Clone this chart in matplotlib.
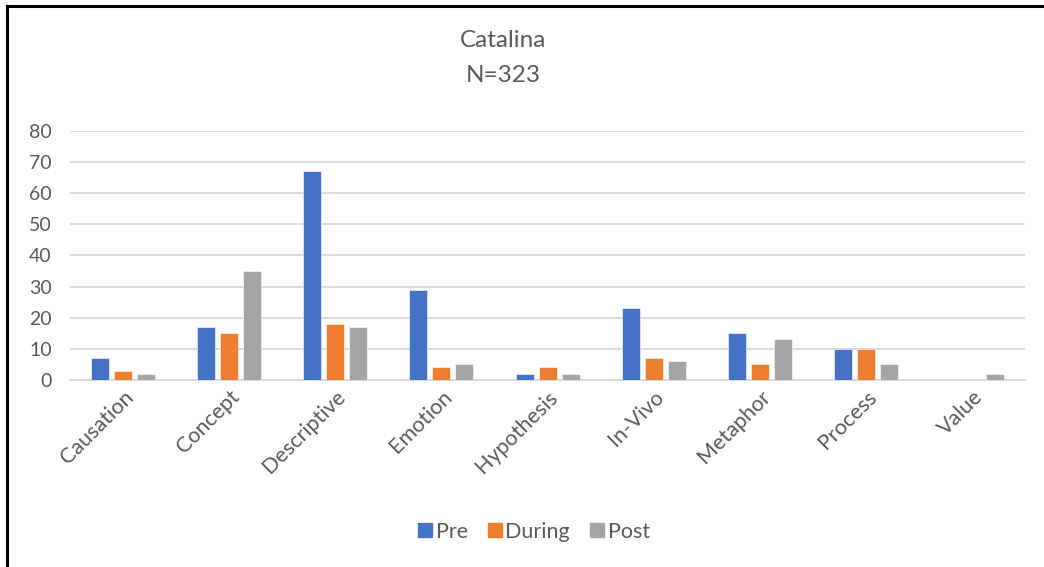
import numpy as np
from matplotlib import pyplot as plt
from matplotlib.lines import Line2D

categorias = ['Causation', 'Concept', 'Descriptive', 'Emotion', 'Hypothesis',
              'In-Vivo', 'Metaphor', 'Process', 'Value']
pre = [7, 17, 67, 29, 2, 23, 15, 10, 0]
during = [3, 15, 18, 4, 4, 7, 5, 10, 0]
post = [2, 35, 17, 5, 2, 6, 13, 5, 2]
series = ['Pre', 'During', 'Post']
colores = ['#4472C4', '#ED7D31', '#A5A5A5']

plt.rcParams['font.family'] = ['Lato', 'DejaVu Sans']
gris_texto = '#595959'

fig = plt.figure(figsize=(10.44, 5.67), dpi=100)
ax = fig.add_axes([0.067, 0.330, 0.915, 0.439])

x = np.arange(len(categorias))
ancho = 0.17
paso = 0.217
for i, (datos, nombre, color) in enumerate(zip([pre, during, post], series, colores)):
    ax.bar(x + (i - 1) * paso, datos, ancho, color=color, label=nombre,
           edgecolor='white', linewidth=0.4, zorder=3)

ax.set_xlim(-0.5, len(categorias) - 0.5)
ax.set_ylim(0, 80)
ax.set_yticks(range(0, 81, 10))
ax.yaxis.grid(True, color='#d9d9d9', linewidth=1.4, zorder=0)
ax.set_axisbelow(True)
for lado in ['top', 'right', 'left']:
    ax.spines[lado].set_visible(False)
ax.spines['bottom'].set_color('#d9d9d9')
ax.spines['bottom'].set_linewidth(1.4)
ax.tick_params(axis='y', length=0, pad=13, labelsize=14, labelcolor=gris_texto)
ax.tick_params(axis='x', length=0, pad=5, labelsize=15.5, labelcolor=gris_texto)
ax.set_xticks(x)
ax.set_xticklabels(categorias, rotation=45, ha='right', rotation_mode='anchor')

# titulo en dos lineas
fig.text(0.482, 0.928, 'Catalina', ha='center', va='center', fontsize=17.5, color=gris_texto)
fig.text(0.482, 0.866, 'N=323', ha='center', va='center', fontsize=17.5, color=gris_texto)

# leyenda abajo
handles = [Line2D([], [], marker='s', linestyle='none', markersize=9.5,
                  markerfacecolor=c, markeredgecolor=c) for c in colores]
fig.legend(handles, series, loc='center', bbox_to_anchor=(0.51, 0.062), ncol=3,
           frameon=False, fontsize=15.5, labelcolor=gris_texto, handletextpad=0.05,
           columnspacing=0.8, handlelength=0.9)

# marco del grafico
fig.add_artist(Line2D([7 / 1044, 7 / 1044], [0, 1 - 6 / 567], color='black', linewidth=2.2))
fig.add_artist(Line2D([7 / 1044, 1], [1 - 6 / 567, 1 - 6 / 567], color='black', linewidth=2.2))

fig.savefig('out.png', dpi=100)
